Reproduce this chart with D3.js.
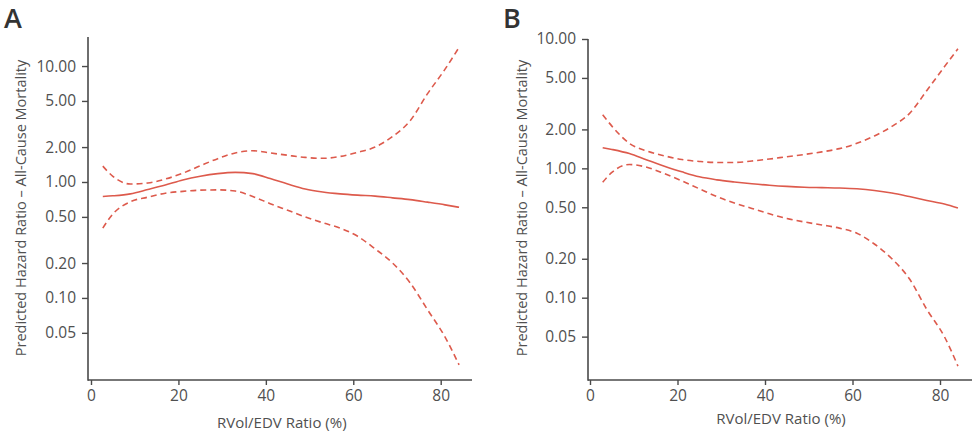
<!DOCTYPE html>
<html>
<head>
<meta charset="utf-8">
<script src="https://cdn.jsdelivr.net/npm/d3@7"></script>
<style>
  html, body { margin: 0; padding: 0; background: #fff; }
  svg { display: block; font-family: "Open Sans", "Noto Sans", sans-serif; }
</style>
</head>
<body>
<svg id="chart" width="975" height="436"></svg>
<script>
// ---- Data ----
const yTickValues = [0.05, 0.1, 0.2, 0.5, 1, 2, 5, 10];
const xTickValues = [0, 20, 40, 60, 80];
const yTitle = "Predicted Hazard Ratio \u2013 All-Cause Mortality";
const xTitle = "RVol/EDV Ratio (%)";

// Panel A
const aX     = [2.7, 5, 9, 13, 17, 21, 25, 29, 33, 37, 41, 45, 49, 53, 57, 61, 65, 69, 73, 77, 81, 84.2];
const aFit   = [0.75, 0.76, 0.79, 0.86, 0.94, 1.04, 1.12, 1.18, 1.21, 1.18, 1.07, 0.96, 0.87, 0.82, 0.79, 0.77, 0.755, 0.73, 0.705, 0.67, 0.635, 0.605];
const aUpper = [1.37, 1.12, 0.96, 0.98, 1.06, 1.19, 1.38, 1.59, 1.78, 1.86, 1.78, 1.70, 1.63, 1.60, 1.66, 1.80, 2.0, 2.47, 3.37, 5.78, 9.4, 14.5];
const aLower = [0.40, 0.53, 0.675, 0.74, 0.80, 0.83, 0.85, 0.855, 0.835, 0.75, 0.65, 0.57, 0.50, 0.445, 0.40, 0.34, 0.265, 0.20, 0.135, 0.079, 0.046, 0.0265];

// Panel B
const bX     = [2.9, 5, 9, 13, 17, 21, 25, 29, 33, 37, 41, 45, 49, 53, 57, 61, 65, 69, 73, 77, 81, 84.1];
const bFit   = [1.445, 1.40, 1.30, 1.16, 1.04, 0.94, 0.86, 0.815, 0.785, 0.76, 0.74, 0.725, 0.715, 0.71, 0.705, 0.695, 0.675, 0.645, 0.605, 0.565, 0.53, 0.494];
const bUpper = [2.6, 2.12, 1.56, 1.36, 1.25, 1.17, 1.13, 1.11, 1.11, 1.14, 1.18, 1.23, 1.28, 1.34, 1.42, 1.56, 1.78, 2.11, 2.65, 4.0, 6.1, 8.4];
const bLower = [0.78, 0.93, 1.07, 1.02, 0.91, 0.80, 0.695, 0.605, 0.54, 0.49, 0.445, 0.41, 0.385, 0.365, 0.345, 0.315, 0.26, 0.20, 0.14, 0.081, 0.050, 0.0296];

const panels = [
  { label: "A", x: aX, fit: aFit, upper: aUpper, lower: aLower,
    left: 88, right: 472, top: 37, bottom: 380, x0px: 91, x80px: 440.7,
    yDomain: [0.0196, 17.8], titleX: 26, labelX: 4, xTitleY: 428 },
  { label: "B", x: bX, fit: bFit, upper: bUpper, lower: bLower,
    left: 588, right: 972, top: 39, bottom: 380, x0px: 590, x80px: 940,
    yDomain: [0.0231, 10], titleX: 527, labelX: 503, xTitleY: 424 }
];

const svg = d3.select("#chart");
const red = "#dd5a4c";
const axisColor = "#4a4a4a";
const textColor = "#505050";

panels.forEach(p => {
  const g = svg.append("g");
  const x = d3.scaleLinear().domain([0, 80]).range([p.x0px, p.x80px]);
  const y = d3.scaleLog().domain(p.yDomain).range([p.bottom, p.top]);

  // axis lines
  g.append("line").attr("x1", p.left).attr("x2", p.left)
    .attr("y1", p.top).attr("y2", p.bottom + 0.75)
    .attr("stroke", axisColor).attr("stroke-width", 1.6);
  g.append("line").attr("x1", p.left).attr("x2", p.right)
    .attr("y1", p.bottom).attr("y2", p.bottom)
    .attr("stroke", axisColor).attr("stroke-width", 1.6);

  // y axis ticks
  const yAxis = d3.axisLeft(y).tickValues(yTickValues)
    .tickFormat(d3.format(".2f")).tickSize(6).tickPadding(6);
  const yg = g.append("g").attr("transform", `translate(${p.left},0)`).call(yAxis);
  yg.select(".domain").remove();
  yg.selectAll(".tick line").attr("stroke", axisColor).attr("stroke-width", 1.4);
  yg.selectAll(".tick text").attr("fill", textColor)
    .style("font-size", "15.5px").style("font-family", "'Open Sans', sans-serif");

  // x axis ticks
  const xAxis = d3.axisBottom(x).tickValues(xTickValues).tickSize(5).tickPadding(5);
  const xg = g.append("g").attr("transform", `translate(0,${p.bottom})`).call(xAxis);
  xg.select(".domain").remove();
  xg.selectAll(".tick line").attr("stroke", axisColor).attr("stroke-width", 1.4);
  xg.selectAll(".tick text").attr("fill", textColor)
    .style("font-size", "15.5px").style("font-family", "'Open Sans', sans-serif");

  // titles
  g.append("text").attr("x", x(40) + 16).attr("y", p.xTitleY)
    .attr("text-anchor", "middle").attr("fill", textColor)
    .style("font-size", "15px").style("font-weight", 500)
    .text(xTitle);
  g.append("text")
    .attr("transform", `translate(${p.titleX},208) rotate(-90)`)
    .attr("text-anchor", "middle").attr("fill", textColor)
    .style("font-size", "14.5px").style("font-weight", 500)
    .text(yTitle);

  // panel label
  g.append("text").attr("x", p.labelX).attr("y", 28)
    .attr("fill", "#333").style("font-size", "27px").style("font-weight", 600)
    .text(p.label);

  // curves
  const line = d3.line().x(d => x(d[0])).y(d => y(d[1])).curve(d3.curveMonotoneX);
  const mk = arr => p.x.map((v, i) => [v, arr[i]]);
  g.append("path").attr("d", line(mk(p.fit))).attr("fill", "none")
    .attr("stroke", red).attr("stroke-width", 1.6);
  [p.upper, p.lower].forEach(arr => {
    g.append("path").attr("d", line(mk(arr))).attr("fill", "none")
      .attr("stroke", red).attr("stroke-width", 1.6).attr("stroke-dasharray", "6,4");
  });
});
</script>
</body>
</html>
